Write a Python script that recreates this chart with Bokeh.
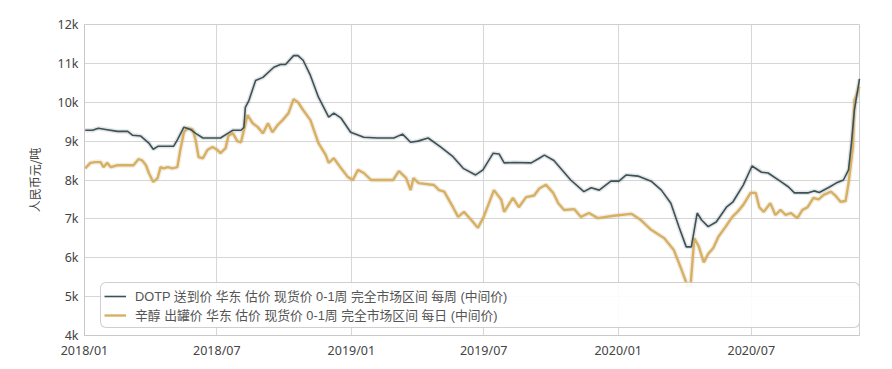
import pandas as pd
from bokeh.plotting import figure
from bokeh.models import (FixedTicker, CustomJSTickFormatter, Legend, LegendItem,
                          Range1d)
from bokeh.embed import file_html
from bokeh.resources import INLINE

# ---------------- data ----------------
dotp_dates = [
    "2018-01-02", "2018-01-12", "2018-01-20", "2018-01-30", "2018-02-15", "2018-03-01",
    "2018-03-08", "2018-03-19", "2018-03-30", "2018-04-05", "2018-04-12", "2018-05-03",
    "2018-05-08", "2018-05-17", "2018-05-26", "2018-06-02", "2018-06-12", "2018-07-06",
    "2018-07-16", "2018-07-23", "2018-08-03", "2018-08-07", "2018-08-09", "2018-08-14",
    "2018-08-23", "2018-09-02", "2018-09-17", "2018-09-26", "2018-10-03", "2018-10-14",
    "2018-10-20", "2018-10-27", "2018-11-06", "2018-11-17", "2018-12-01", "2018-12-08",
    "2018-12-18", "2018-12-31", "2019-01-18", "2019-02-06", "2019-02-28", "2019-03-12",
    "2019-03-23", "2019-04-02", "2019-04-16", "2019-05-03", "2019-05-20", "2019-06-03",
    "2019-06-20", "2019-06-30", "2019-07-14", "2019-07-22", "2019-07-29", "2019-08-11",
    "2019-09-04", "2019-09-15", "2019-09-22", "2019-10-05", "2019-10-28", "2019-11-15",
    "2019-11-25", "2019-12-06", "2019-12-22", "2020-01-02", "2020-01-12", "2020-01-28",
    "2020-02-15", "2020-02-29", "2020-03-13", "2020-03-24", "2020-04-03", "2020-04-10",
    "2020-04-18", "2020-04-24", "2020-05-03", "2020-05-14", "2020-05-28", "2020-06-06",
    "2020-06-20", "2020-07-02", "2020-07-15", "2020-07-24", "2020-08-11", "2020-08-21",
    "2020-08-29", "2020-09-17", "2020-09-25", "2020-10-02", "2020-10-16", "2020-10-25",
    "2020-11-04", "2020-11-11", "2020-11-15", "2020-11-19", "2020-11-26",
]
dotp_values = [
    9280, 9280, 9330, 9300, 9250, 9250,
    9150, 9130, 8950, 8790, 8870, 8870,
    9030, 9360, 9300, 9200, 9080, 9080,
    9200, 9280, 9280, 9350, 9870, 10050,
    10560, 10640, 10900, 10970, 10970, 11200,
    11200, 11080, 10690, 10130, 9620, 9720,
    9590, 9230, 9100, 9080, 9080, 9180,
    8970, 9000, 9080, 8850, 8600, 8300,
    8130, 8260, 8690, 8670, 8440, 8450,
    8440, 8560, 8640, 8500, 8000, 7700,
    7800, 7740, 7970, 7970, 8130, 8100,
    7970, 7740, 7400, 6800, 6280, 6280,
    7150, 6970, 6800, 6920, 7300, 7440,
    7870, 8360, 8200, 8180, 7950, 7820,
    7670, 7670, 7720, 7680, 7820, 7920,
    8000, 8260, 8950, 9800, 10600,
]

octanol_dates = [
    "2018-01-02", "2018-01-09", "2018-01-16", "2018-01-23", "2018-01-27", "2018-02-01",
    "2018-02-06", "2018-02-15", "2018-03-09", "2018-03-16", "2018-03-21", "2018-03-26",
    "2018-03-30", "2018-04-05", "2018-04-11", "2018-04-15", "2018-04-19", "2018-04-25",
    "2018-05-01", "2018-05-08", "2018-05-12", "2018-05-17", "2018-05-22", "2018-05-29",
    "2018-06-02", "2018-06-06", "2018-06-12", "2018-06-18", "2018-06-25", "2018-07-02",
    "2018-07-06", "2018-07-13", "2018-07-17", "2018-07-23", "2018-07-29", "2018-08-03",
    "2018-08-12", "2018-08-19", "2018-08-26", "2018-09-02", "2018-09-09", "2018-09-15",
    "2018-09-22", "2018-09-29", "2018-10-07", "2018-10-14", "2018-10-20", "2018-10-27",
    "2018-11-06", "2018-11-17", "2018-11-27", "2018-12-01", "2018-12-08", "2018-12-18",
    "2018-12-27", "2019-01-03", "2019-01-10", "2019-01-18", "2019-01-28", "2019-02-27",
    "2019-03-07", "2019-03-17", "2019-03-23", "2019-03-27", "2019-04-03", "2019-04-24",
    "2019-05-01", "2019-05-08", "2019-05-20", "2019-05-27", "2019-06-04", "2019-06-14",
    "2019-06-23", "2019-07-01", "2019-07-15", "2019-07-25", "2019-07-29", "2019-08-10",
    "2019-08-18", "2019-08-28", "2019-09-08", "2019-09-15", "2019-09-24", "2019-10-04",
    "2019-10-11", "2019-10-19", "2019-11-02", "2019-11-11", "2019-11-22", "2019-12-04",
    "2019-12-26", "2020-01-19", "2020-02-01", "2020-02-15", "2020-03-04", "2020-03-17",
    "2020-03-26", "2020-04-05", "2020-04-09", "2020-04-14", "2020-04-20", "2020-04-27",
    "2020-05-03", "2020-05-10", "2020-05-17", "2020-05-27", "2020-06-05", "2020-06-12",
    "2020-06-20", "2020-06-30", "2020-07-07", "2020-07-12", "2020-07-18", "2020-07-27",
    "2020-08-03", "2020-08-10", "2020-08-17", "2020-08-24", "2020-09-02", "2020-09-09",
    "2020-09-16", "2020-09-24", "2020-10-01", "2020-10-08", "2020-10-18", "2020-10-24",
    "2020-10-31", "2020-11-07", "2020-11-11", "2020-11-17", "2020-11-19", "2020-11-23",
    "2020-11-26",
]
octanol_values = [
    8300, 8440, 8460, 8460, 8330, 8440,
    8330, 8380, 8380, 8540, 8500, 8380,
    8180, 7950, 8050, 8330, 8300, 8330,
    8300, 8330, 8770, 9230, 9330, 9300,
    9030, 8590, 8560, 8770, 8850, 8770,
    8690, 8820, 9150, 9200, 9000, 8970,
    9670, 9460, 9360, 9200, 9460, 9230,
    9410, 9540, 9720, 10080, 10000, 9800,
    9540, 8950, 8640, 8440, 8560, 8300,
    8080, 8000, 8260, 8180, 8000, 8000,
    8230, 8050, 7740, 8050, 7920, 7870,
    7740, 7700, 7300, 7050, 7180, 6970,
    6770, 7050, 7740, 7490, 7180, 7540,
    7300, 7560, 7600, 7780, 7880, 7670,
    7400, 7230, 7250, 7050, 7150, 7020,
    7080, 7130, 6970, 6720, 6500, 6200,
    5770, 5260, 5300, 6500, 6300, 5880,
    6100, 6250, 6540, 6800, 7050, 7180,
    7360, 7670, 7670, 7300, 7180, 7400,
    7100, 7230, 7100, 7150, 7020, 7230,
    7300, 7540, 7500, 7620, 7700, 7600,
    7440, 7460, 7920, 8850, 10050, 10230,
    10400,
]

y_ticks = [4000, 5000, 6000, 7000, 8000, 9000, 10000, 11000, 12000]
x_tick_dates = ["2018-01-01", "2018-07-01", "2019-01-01", "2019-07-01",
                "2020-01-01", "2020-07-01"]
x_start, x_end = "2018-01-01", "2020-11-26"

series_names = ["DOTP 送到价 华东 估价 现货价 0-1周 完全市场区间 每周 (中间价)",
                "辛醇 出罐价 华东 估价 现货价 0-1周 完全市场区间 每日 (中间价)"]
y_label = "人民币元/吨"

# ---------------- figure ----------------
dotp_x = pd.to_datetime(dotp_dates)
oct_x = pd.to_datetime(octanol_dates)
tick_ms = [pd.Timestamp(d).value / 1e6 for d in x_tick_dates]

p = figure(width=876, height=361, x_axis_type="datetime",
           x_range=Range1d(pd.Timestamp(x_start), pd.Timestamp(x_end)),
           y_range=Range1d(4000, 12000),
           output_backend="svg", toolbar_location=None,
           min_border_left=84, min_border_right=17,
           min_border_top=24, min_border_bottom=25)
p.background_fill_color = "white"
p.border_fill_color = "white"
p.outline_line_color = "#cfcfcf"

p.xaxis.ticker = FixedTicker(ticks=tick_ms)
p.xaxis.formatter = CustomJSTickFormatter(code="""
const d = new Date(tick); const m = d.getUTCMonth() + 1;
return d.getUTCFullYear() + '/' + (m < 10 ? '0' : '') + m;""")
p.yaxis.ticker = FixedTicker(ticks=y_ticks)
p.yaxis.formatter = CustomJSTickFormatter(code="return (tick/1000) + 'k';")

for ax in (p.xaxis[0], p.yaxis[0]):
    ax.axis_line_color = "#c8c8c8"
    ax.major_tick_line_color = None
    ax.minor_tick_line_color = None
    ax.major_tick_out = 0
    ax.major_tick_in = 0
    ax.major_label_text_font = "Noto Sans"
    ax.major_label_text_font_size = "12.5px"
    ax.major_label_text_color = "#444444"
    ax.major_label_standoff = 6

p.yaxis.axis_label = y_label
p.yaxis.axis_label_text_font = "Noto Sans CJK SC"
p.yaxis.axis_label_text_font_size = "12px"
p.yaxis.axis_label_text_font_style = "normal"
p.yaxis.axis_label_text_color = "#444444"
p.yaxis.axis_label_standoff = 12

p.xgrid.ticker = FixedTicker(ticks=tick_ms)
p.ygrid.ticker = FixedTicker(ticks=y_ticks)
p.grid.grid_line_color = "#d6d6d6"
p.grid.grid_line_width = 1

# soft shadows
p.line(dotp_x, dotp_values, line_color="#000000", line_alpha=0.10, line_width=4.5)
p.line(oct_x, octanol_values, line_color="#8a6a20", line_alpha=0.12, line_width=5)

r_oct = p.line(oct_x, octanol_values, line_color="#d8b062", line_width=2.4,
               level="overlay")
r_dotp = p.line(dotp_x, dotp_values, line_color="#3a5259", line_width=1.6,
                level="overlay")

legend = Legend(items=[LegendItem(label=series_names[0], renderers=[r_dotp]),
                       LegendItem(label=series_names[1], renderers=[r_oct])],
                location=(16, 7), orientation="vertical",
                padding=3, spacing=0, margin=0,
                glyph_width=22, glyph_height=12, label_height=12,
                label_standoff=9, label_width=721,
                label_text_font="Liberation Sans, Noto Sans CJK SC",
                label_text_font_size="12.8px",
                label_text_color="#555555",
                border_line_color="#a0a0a0", border_line_width=1,
                background_fill_color="white", background_fill_alpha=0.9)
if "border_radius" in Legend.properties():
    legend.border_radius = 6
p.add_layout(legend)

open("out.html", "w").write(file_html(p, INLINE))
